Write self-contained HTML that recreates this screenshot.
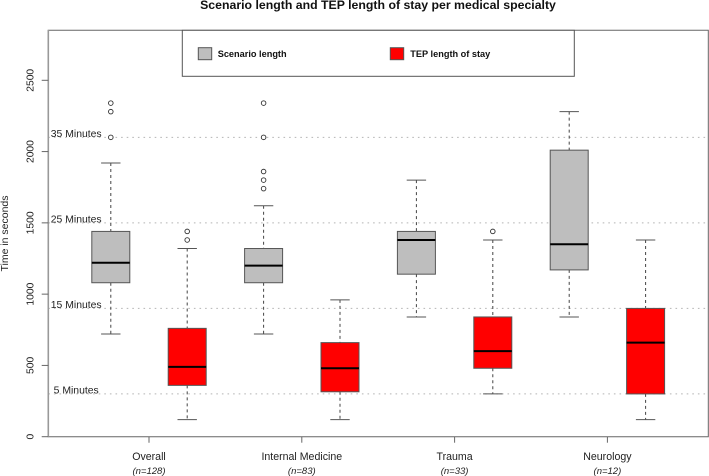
<!DOCTYPE html>
<html>
<head>
<meta charset="utf-8">
<style>
html,body{margin:0;padding:0;background:#fff;width:709px;height:476px;overflow:hidden}
svg{display:block;font-family:"Liberation Sans",Arial,sans-serif}
</style>
</head>
<body>
<svg id="chart" width="709" height="476" viewBox="0 0 709 476">
<text x="378" y="9" text-anchor="middle" font-size="12.3" font-weight="bold" fill="#111">Scenario length and TEP length of stay per medical specialty</text>
<text transform="translate(8,233.5) rotate(-90)" text-anchor="middle" font-size="10.5" fill="#222">Time in seconds</text>
<g id="refs"></g>
<g id="boxes"></g>
<g id="axes"></g>
<g>
<rect x="182.3" y="30.3" width="392" height="46" fill="#fff" stroke="#555" stroke-width="1"/>
<rect x="198.3" y="47.7" width="13.4" height="12" fill="#bebebe" stroke="#555" stroke-width="1"/>
<text x="217.7" y="57" font-size="9.2" font-weight="bold" fill="#111">Scenario length</text>
<rect x="390.3" y="47.7" width="13.4" height="12" fill="#ff0000" stroke="#555" stroke-width="1"/>
<text x="410.3" y="57" font-size="9.2" font-weight="bold" fill="#111">TEP length of stay</text>
</g>
</svg>
<script>
const categories = ["Overall", "Internal Medicine", "Trauma", "Neurology"];
const sampleSizes = ["(n=128)", "(n=83)", "(n=33)", "(n=12)"];
const yTicks = [0, 500, 1000, 1500, 2000, 2500];
const refValues = [300, 900, 1500, 2100];
const refLabels = ["5 Minutes", "15 Minutes", "25 Minutes", "35 Minutes"];

const scenarioLow = [720, 720, 840, 840];
const scenarioQ1 = [1080, 1080, 1140, 1170];
const scenarioMedian = [1220, 1200, 1380, 1350];
const scenarioQ3 = [1440, 1320, 1440, 2010];
const scenarioHigh = [1920, 1620, 1800, 2280];
const scenarioOutliers = [[2100, 2280, 2340], [1740, 1800, 1860, 2100, 2340], [], []];

const tepLow = [120, 120, 300, 120];
const tepQ1 = [360, 315, 480, 300];
const tepMedian = [490, 480, 600, 660];
const tepQ3 = [760, 660, 840, 900];
const tepHigh = [1320, 960, 1380, 1380];
const tepOutliers = [[1380, 1440], [], [1440], []];

const NS = "http://www.w3.org/2000/svg";
const plot = { left: 48.3, right: 708.3, top: 30.3, bottom: 436.7 };
const yScale = v => plot.bottom - v * 0.14256;
const xScale = i => 149 + i * 152.8;
const OFFSET = 38.2, HALF = 19, CAP = 9.7;

function mk(parent, tag, attrs, text) {
  const el = document.createElementNS(NS, tag);
  for (const k in attrs) el.setAttribute(k, attrs[k]);
  if (text !== undefined) el.textContent = text;
  parent.appendChild(el);
  return el;
}
const refs = document.getElementById("refs");
const boxes = document.getElementById("boxes");
const axes = document.getElementById("axes");

refValues.forEach((v, i) => {
  const line = mk(refs, "line", { x1: plot.left, x2: plot.right, y1: yScale(v), y2: yScale(v), stroke: "#b4b4b4", "stroke-width": 1, "stroke-dasharray": "1.6 4" });
  
  
  const lab = mk(refs, "text", { x: 76.2, y: yScale(v) - 0.2, "text-anchor": "middle", "font-size": 10.4, fill: "#222" }, refLabels[i]);
  
  
});

function drawBox(group, cx, low, q1, med, q3, high, outliers, fill) {
  const stroke = "#555";
  const wh = mk(group, "path", { d: "M" + cx + " " + yScale(high) + "V" + yScale(q3) + "M" + cx + " " + yScale(q1) + "V" + yScale(low), stroke: "#444", "stroke-width": 1, "stroke-dasharray": "3 3", fill: "none" });
  
  
  const caps = mk(group, "path", { d: "M" + (cx - CAP) + " " + yScale(high) + "H" + (cx + CAP) + "M" + (cx - CAP) + " " + yScale(low) + "H" + (cx + CAP), stroke: stroke, "stroke-width": 1, fill: "none" });
  
  
  const r = mk(group, "rect", { x: cx - HALF, y: yScale(q3), width: HALF * 2, height: yScale(q1) - yScale(q3), fill: fill, stroke: stroke, "stroke-width": 1 });
  
  
  const m = mk(group, "line", { x1: cx - HALF, x2: cx + HALF, y1: yScale(med), y2: yScale(med), stroke: "#000", "stroke-width": 2 });
  
  
  outliers.forEach(o => {
    const c = mk(group, "circle", { cx: cx, cy: yScale(o), r: 2.3, fill: "#fff", stroke: "#333", "stroke-width": 0.9 });
    
    
  });
}

categories.forEach((c, i) => {
  const x = xScale(i);
  drawBox(boxes, x - OFFSET, scenarioLow[i], scenarioQ1[i], scenarioMedian[i], scenarioQ3[i], scenarioHigh[i], scenarioOutliers[i], "#bebebe");
  drawBox(boxes, x + OFFSET, tepLow[i], tepQ1[i], tepMedian[i], tepQ3[i], tepHigh[i], tepOutliers[i], "#ff0000");
});

const frame = mk(axes, "path", { d: "M" + plot.left + " " + plot.top + "H" + plot.right + "V" + plot.bottom + "H" + plot.left, fill: "none", stroke: "#666", "stroke-width": 1 });


const yAxis = mk(axes, "line", { x1: plot.left, x2: plot.left, y1: plot.top - 0.5, y2: plot.bottom + 0.5, stroke: "#999", "stroke-width": 1.6 });



yTicks.forEach(v => {
  const t = mk(axes, "line", { x1: 41.7, x2: plot.left, y1: yScale(v), y2: yScale(v), stroke: "#666", "stroke-width": 1 });
  
  
  const y = yScale(v);
  const l = mk(axes, "text", { transform: "translate(33.5," + y + ") rotate(-90)", "text-anchor": "middle", "font-size": 10.3, fill: "#222" }, String(v));
  
  
});

categories.forEach((c, i) => {
  const x = xScale(i);
  const t = mk(axes, "line", { x1: x, x2: x, y1: plot.bottom, y2: plot.bottom + 6, stroke: "#666", "stroke-width": 1 });
  
  
  const l = mk(axes, "text", { x: x, y: 460, "text-anchor": "middle", "font-size": 10.6, fill: "#222" }, c);
  
  
  const n = mk(axes, "text", { x: x, y: 474, "text-anchor": "middle", "font-size": 9.5, "font-style": "italic", fill: "#222" }, sampleSizes[i]);
  
  
});
</script>
</body>
</html>
